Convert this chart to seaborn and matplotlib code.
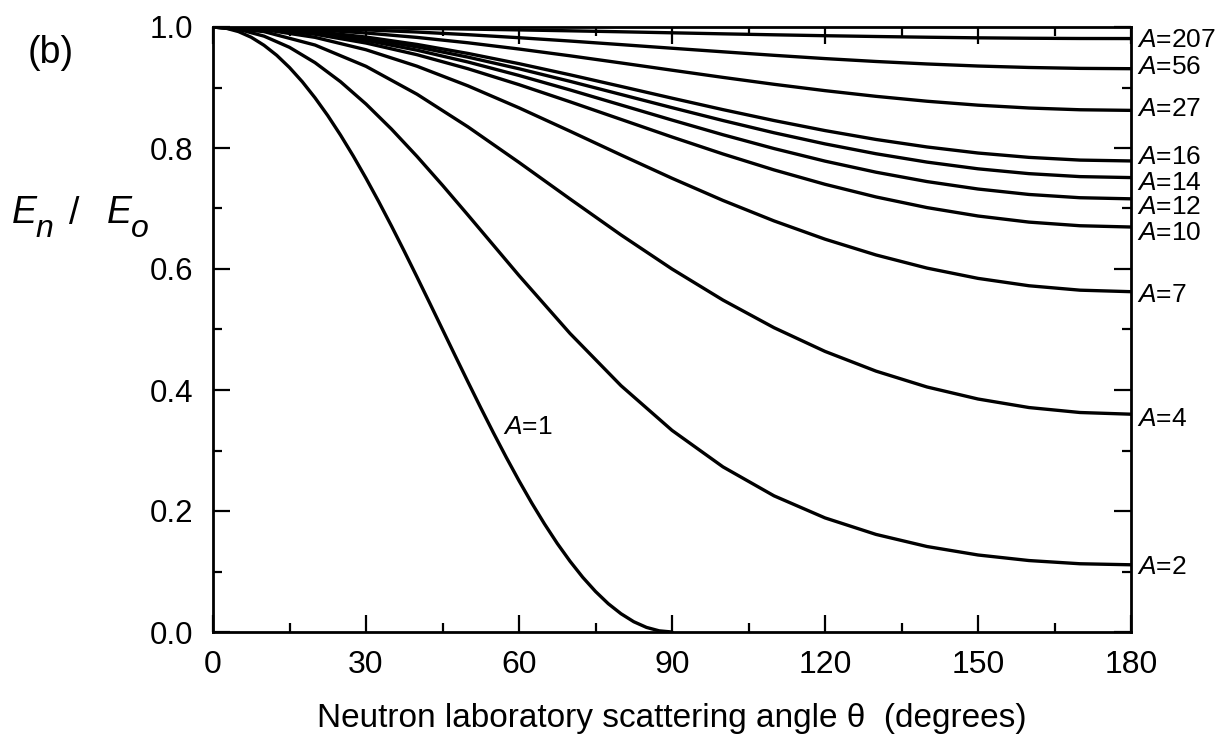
import numpy as np
import pandas as pd
import matplotlib
matplotlib.use("Agg")
import matplotlib.pyplot as plt
from matplotlib.ticker import MultipleLocator, FormatStrFormatter
import seaborn as sns

# Elastic scattering: fraction of neutron energy kept, E_n/E_o, versus lab angle
angles_a1 = [0, 2.5, 5, 7.5, 10, 12.5, 15, 17.5, 20, 22.5, 25, 27.5, 30, 32.5, 35,
             37.5, 40, 42.5, 45, 47.5, 50, 52.5, 55, 57.5, 60, 62.5, 65, 67.5, 70,
             72.5, 75, 77.5, 80, 82.5, 85, 87.5, 90]
angles_a2 = [0, 5, 10, 15, 20, 25, 30, 35, 40, 45, 50, 60, 70, 80, 90,
             100, 110, 120, 130, 140, 150, 160, 170, 180]
angles = [0, 10, 20, 30, 40, 50, 60, 70, 80, 90,
          100, 110, 120, 130, 140, 150, 160, 170, 180]

ratio_a1 = [1.0, 0.9981, 0.9924, 0.9830, 0.9698, 0.9532, 0.9330, 0.9096, 0.8830,
            0.8536, 0.8214, 0.7868, 0.7500, 0.7113, 0.6710, 0.6294, 0.5868, 0.5436,
            0.5000, 0.4564, 0.4132, 0.3706, 0.3290, 0.2887, 0.2500, 0.2132, 0.1786,
            0.1464, 0.1170, 0.0904, 0.0670, 0.0468, 0.0302, 0.0170, 0.0076, 0.0019, 0.0]
ratio_a2 = [1.0, 0.9962, 0.9849, 0.9664, 0.9411, 0.9096, 0.8727, 0.8312, 0.7861,
            0.7384, 0.6891, 0.5892, 0.4935, 0.4072, 0.3333,
            0.2729, 0.2251, 0.1886, 0.1613, 0.1413, 0.1273, 0.1181, 0.1128, 0.1111]
ratio_a4 = [1.0, 0.9924, 0.9702, 0.9350, 0.8889, 0.8349, 0.7762, 0.7158, 0.6563, 0.6000,
            0.5486, 0.5030, 0.4638, 0.4312, 0.4050, 0.3851, 0.3710, 0.3628, 0.3600]
ratio_a7 = [1.0, 0.9957, 0.9829, 0.9624, 0.9352, 0.9027, 0.8664, 0.8278, 0.7885, 0.7500,
            0.7133, 0.6795, 0.6493, 0.6232, 0.6015, 0.5845, 0.5723, 0.5650, 0.5625]
ratio_a10 = [1.0, 0.9970, 0.9880, 0.9735, 0.9542, 0.9310, 0.9047, 0.8764, 0.8473, 0.8182,
             0.7901, 0.7638, 0.7400, 0.7191, 0.7015, 0.6876, 0.6775, 0.6715, 0.6694]
ratio_a12 = [1.0, 0.9975, 0.9900, 0.9779, 0.9617, 0.9421, 0.9199, 0.8960, 0.8711, 0.8462,
             0.8219, 0.7991, 0.7783, 0.7600, 0.7445, 0.7322, 0.7232, 0.7178, 0.7160]
ratio_a14 = [1.0, 0.9978, 0.9914, 0.9810, 0.9671, 0.9502, 0.9310, 0.9102, 0.8885, 0.8667,
             0.8454, 0.8252, 0.8068, 0.7905, 0.7767, 0.7656, 0.7576, 0.7527, 0.7511]
ratio_a16 = [1.0, 0.9981, 0.9925, 0.9834, 0.9712, 0.9563, 0.9394, 0.9210, 0.9018, 0.8824,
             0.8634, 0.8454, 0.8288, 0.8141, 0.8017, 0.7917, 0.7845, 0.7800, 0.7786]
ratio_a27 = [1.0, 0.9989, 0.9955, 0.9901, 0.9828, 0.9739, 0.9636, 0.9524, 0.9406, 0.9286,
             0.9167, 0.9053, 0.8948, 0.8854, 0.8773, 0.8708, 0.8661, 0.8632, 0.8622]
ratio_a56 = [1.0, 0.9995, 0.9979, 0.9952, 0.9917, 0.9873, 0.9823, 0.9768, 0.9709, 0.9649,
             0.9590, 0.9532, 0.9478, 0.9430, 0.9389, 0.9355, 0.9331, 0.9316, 0.9311]
ratio_a207 = [1.0, 0.9999, 0.9994, 0.9987, 0.9977, 0.9966, 0.9952, 0.9937, 0.9921, 0.9904,
              0.9887, 0.9871, 0.9856, 0.9843, 0.9831, 0.9821, 0.9814, 0.9810, 0.9809]

mass_numbers = [1, 2, 4, 7, 10, 12, 14, 16, 27, 56, 207]
curve_angles = [angles_a1, angles_a2] + [angles] * 9
curve_ratios = [ratio_a1, ratio_a2, ratio_a4, ratio_a7, ratio_a10, ratio_a12,
                ratio_a14, ratio_a16, ratio_a27, ratio_a56, ratio_a207]

# vertical positions of the end labels on the right-hand side
label_y = [None, 0.109, 0.3545, 0.559, 0.661, 0.704, 0.745, 0.787, 0.866, 0.9355, 0.980]

frames = []
for a, th, r in zip(mass_numbers, curve_angles, curve_ratios):
    frames.append(pd.DataFrame({"angle": th, "ratio": r, "A": a}))
df = pd.concat(frames, ignore_index=True)

sns.set_theme(style="ticks")
plt.rcParams["font.family"] = ["Liberation Sans", "DejaVu Sans"]
plt.rcParams["mathtext.fontset"] = "custom"
plt.rcParams["mathtext.it"] = "Liberation Sans:italic"
plt.rcParams["mathtext.rm"] = "Liberation Sans"
plt.rcParams["mathtext.sf"] = "Liberation Sans"
for key in ["text.color", "axes.labelcolor", "xtick.color", "ytick.color",
            "axes.edgecolor"]:
    plt.rcParams[key] = "black"

W, H = 1226, 736
fig = plt.figure(figsize=(W / 100, H / 100), dpi=100)
ax = fig.add_axes([213 / W, 1 - 632 / H, 918 / W, 605 / H])

sns.lineplot(data=df, x="angle", y="ratio", units="A", estimator=None,
             color="black", linewidth=2.4, ax=ax, sort=False)

ax.set_xlim(0, 180)
ax.set_ylim(0, 1.0)
ax.xaxis.set_major_locator(MultipleLocator(30))
ax.xaxis.set_minor_locator(MultipleLocator(15))
ax.yaxis.set_major_locator(MultipleLocator(0.2))
ax.yaxis.set_minor_locator(MultipleLocator(0.1))
ax.yaxis.set_major_formatter(FormatStrFormatter("%.1f"))
ax.tick_params(which="both", direction="in", top=True, right=True,
               labeltop=False, labelright=False, color="black")
ax.tick_params(which="major", length=12, width=1.6)
ax.tick_params(which="minor", length=6.5, width=1.6)
ax.tick_params(axis="x", which="major", labelsize=23, pad=13, labelcolor="black")
ax.tick_params(axis="y", which="major", labelsize=22.5, pad=14, labelcolor="black")
for sp in ax.spines.values():
    sp.set_linewidth(2.0)
    sp.set_color("black")
ax.set_xlabel("")
ax.set_ylabel("")

# end labels for each mass number
for a, ly in zip(mass_numbers[1:], label_y[1:]):
    ax.annotate(r"$\mathit{A}$=" + str(a), xy=(180, ly), xytext=(4.0, -6.0),
                textcoords="offset points", ha="left", va="baseline",
                fontsize=19, color="black", annotation_clip=False)
ax.annotate(r"$\mathit{A}$=1", xy=(56.9, 0.341), xytext=(0, -6.0),
            textcoords="offset points", ha="left", va="baseline",
            fontsize=19, color="black")

# axis titles
fig.text(672 / W, 1 - 727 / H, "Neutron laboratory scattering angle θ  (degrees)",
         ha="center", va="baseline", fontsize=24, color="black")
fig.text(12 / W, 1 - 223 / H, "E", ha="left", va="baseline", fontsize=27,
         style="italic", color="black")
fig.text(35 / W, 1 - 237 / H, "n", ha="left", va="baseline", fontsize=23,
         style="italic", color="black")
fig.text(69 / W, 1 - 224 / H, "/", ha="left", va="baseline", fontsize=27,
         color="black")
fig.text(107 / W, 1 - 223 / H, "E", ha="left", va="baseline", fontsize=27,
         style="italic", color="black")
fig.text(131 / W, 1 - 237 / H, "o", ha="left", va="baseline", fontsize=23,
         style="italic", color="black")
fig.text(28 / W, 1 - 63 / H, "(b)", ha="left", va="baseline", fontsize=27,
         color="black")

fig.savefig("out.png", dpi=100, facecolor="white")
